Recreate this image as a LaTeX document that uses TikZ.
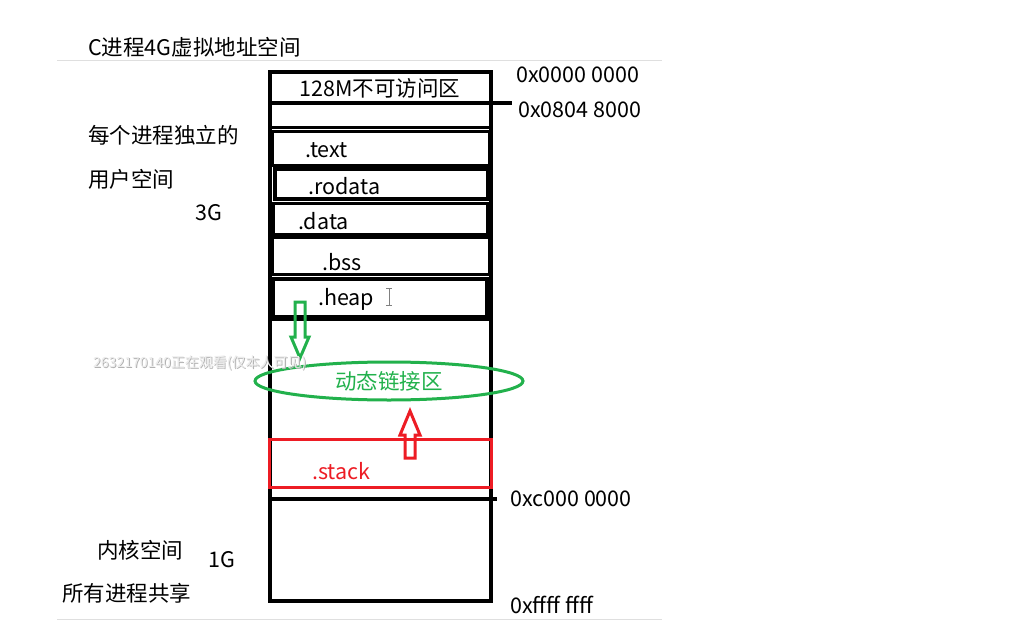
\documentclass[tikz,border=0pt]{standalone}
\usepackage{fontspec}
\setmainfont{Noto Sans CJK SC}
\usetikzlibrary{shapes.geometric}
\definecolor{pgreen}{RGB}{34,177,76}
\definecolor{pred}{RGB}{237,28,36}
\begin{document}
\begin{tikzpicture}[x=1pt,y=-1pt,
  txt/.style={font=\fontsize{21.5}{25}\selectfont, inner sep=0pt},
  ltxt/.style={txt, anchor=west},
  seg/.style={draw, line width=3pt, inner sep=0pt, outer sep=0pt, anchor=north west},
  rule/.style={draw=gray!25, line width=1pt},
  blk/.style={line width=3.5pt},
  hollow/.style={line width=3pt, line join=miter}]
\useasboundingbox (0,0) rectangle (1024,639);
\fill[white] (0,0) rectangle (1024,639);
% page rules
\coordinate (r1a) at (57,61); \coordinate (r1b) at (662,61);
\coordinate (r2a) at (57,619); \coordinate (r2b) at (662,619);
\draw[rule] (r1a) -- (r1b);
\draw[rule] (r2a) -- (r2b);
% title
\node[ltxt] (title) at (88,47) {C进程4G虚拟地址空间};
% outer frame
\node[seg, line width=4pt, minimum width=221pt, minimum height=529pt] (outer) at (270,72) {};
% horizontal separators
\coordinate (t1) at (512,103);
\coordinate (t1l) at (270,103);
\draw[blk] (t1l) -- (t1);
\coordinate (s1l) at (270,128); \coordinate (s1r) at (491,128);
\draw[line width=3pt] (s1l) -- (s1r);
\coordinate (s2l) at (270,319); \coordinate (s2r) at (491,319);
\draw[line width=3pt] (s2l) -- (s2r);
\coordinate (t2l) at (270,499); \coordinate (t2) at (497,499);
\draw[blk] (t2l) -- (t2);
% section boxes
\node[seg, minimum width=217pt, minimum height=34pt] (btext) at (272,132) {};
\node[seg, line width=3.5pt, minimum width=213pt, minimum height=30pt] (brodata) at (275,169) {};
\node[seg, minimum width=214pt, minimum height=31pt] (bdata) at (273,203) {};
\node[seg, minimum width=217pt, minimum height=37pt] (bbss) at (272,237) {};
\node[seg, line width=3.5pt, minimum width=214pt, minimum height=38pt] (bheap) at (273,279) {};
\node[seg, draw=pred, minimum width=222pt, minimum height=48pt] (bstack) at (269,439) {};
% section labels
\node[txt] (l128) at (380,88) {128M不可访问区};
\node[ltxt] (ltext) at (305,150) {.text};
\node[ltxt] (lrodata) at (308,186) {.rodata};
\node[ltxt] (ldata) at (298,221) {.data};
\node[ltxt] (lbss) at (322,262) {.bss};
\node[ltxt] (lheap) at (318,299) {.heap};
\node[ltxt, text=pred] (lstack) at (312,471) {.stack};
% text cursor glyph
\coordinate (cu1) at (389,289); \coordinate (cu2) at (389,305);
\draw[gray, line width=1pt] (cu1) -- (cu2);
\draw[gray, line width=0.8pt] (386,288.5) -- (392,288.5) (386,305.5) -- (392,305.5);
% dynamic link area
\node[draw=pgreen, line width=3pt, ellipse, minimum width=268pt, minimum height=38pt, inner sep=0pt,
      text=pgreen, font=\fontsize{21.5}{25}\selectfont] (dyn) at (389,381) {动态链接区};
% hollow arrows
\draw[hollow, draw=pgreen] (295,302) -- (305,302) -- (305,337) -- (309,337) -- (300,358)
   -- (291,337) -- (295,337) -- cycle;
\draw[hollow, draw=pred] (405,458) -- (415,458) -- (415,435) -- (420,435) -- (410,411)
   -- (400,435) -- (405,435) -- cycle;
% addresses
\node[ltxt] (a0) at (516,75) {0x0000 0000};
\node[ltxt] (a1) at (518,110) {0x0804 8000};
\node[ltxt] (a2) at (510,499) {0xc000 0000};
\node[ltxt] (a3) at (510,605) {0xffff ffff};
% left labels
\node[ltxt] (u1) at (88,135) {每个进程独立的};
\node[ltxt] (u2) at (88,179) {用户空间};
\node[ltxt] (u3) at (195,213) {3G};
\node[ltxt] (k1) at (97,550) {内核空间};
\node[ltxt] (k2) at (208,560) {1G};
\node[ltxt] (k3) at (62,593) {所有进程共享};
% watermark
\node[anchor=west, inner sep=0pt, font=\fontsize{14}{16}\selectfont, text=gray!60] (wms) at (94,364) {2632170140正在观看(仅本人可见)};
\node[anchor=west, inner sep=0pt, font=\fontsize{14}{16}\selectfont, text=gray!15] (wm) at (93,363) {2632170140正在观看(仅本人可见)};
\end{tikzpicture}
\end{document}
